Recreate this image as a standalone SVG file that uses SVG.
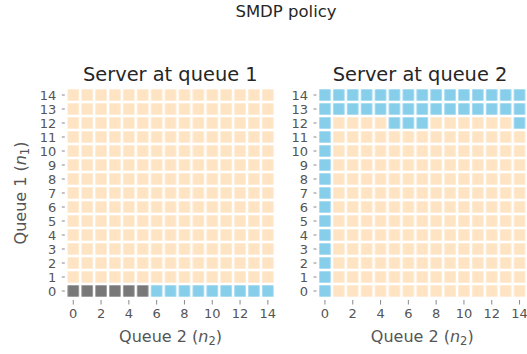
<svg xmlns="http://www.w3.org/2000/svg" width="527" height="354" viewBox="0 0 527 354">
<style>
text{font-family:"DejaVu Sans","Liberation Sans",sans-serif}
.sup{font-size:16.5px;fill:#262626;text-anchor:middle}
.ttl{font-size:19.4px;fill:#262626;text-anchor:middle}
.yt{font-size:13px;fill:#555;text-anchor:end}
.xt{font-size:13px;fill:#555;text-anchor:middle}
.al{font-size:16px;fill:#555;text-anchor:middle}
.tk{stroke:#888;stroke-width:1;fill:none}
</style>
<defs>
<pattern id="po" patternUnits="userSpaceOnUse" x="0" y="0" width="13.9" height="14"><rect x="1.3" y="1.3" width="11.3" height="11.4" fill="#FFE4C4"/></pattern>
<pattern id="pb" patternUnits="userSpaceOnUse" x="0" y="0" width="13.9" height="14"><rect x="1.3" y="1.3" width="11.3" height="11.4" fill="#87CEEB"/></pattern>
<pattern id="pg" patternUnits="userSpaceOnUse" x="0" y="0" width="13.9" height="14"><rect x="1.3" y="1.3" width="11.3" height="11.4" fill="#787878"/></pattern>
</defs>
<rect width="527" height="354" fill="#fff"/>
<text class="sup" x="286" y="17.3">SMDP policy</text>

<g id="panel-queue1" transform="translate(66.3,88)">
<text class="ttl" x="104" y="-7.5">Server at queue 1</text>
<rect x="0" y="0" width="208.5" height="196" fill="url(#po)"/>
<rect x="0" y="196" width="83.4" height="14" fill="url(#pg)"/>
<rect x="83.4" y="196" width="125.1" height="14" fill="url(#pb)"/>
<path class="tk" d="M-4.5 7h3M-4.5 21h3M-4.5 35h3M-4.5 49h3M-4.5 63h3M-4.5 77h3M-4.5 91h3M-4.5 105h3M-4.5 119h3M-4.5 133h3M-4.5 147h3M-4.5 161h3M-4.5 175h3M-4.5 189h3M-4.5 203h3"/>
<path class="tk" d="M6.95 212v4.5M34.75 212v4.5M62.55 212v4.5M90.35 212v4.5M118.15 212v4.5M145.95 212v4.5M173.75 212v4.5M201.55 212v4.5"/>
<text class="yt" x="-10" y="11.7">14</text>
<text class="yt" x="-10" y="25.7">13</text>
<text class="yt" x="-10" y="39.7">12</text>
<text class="yt" x="-10" y="53.7">11</text>
<text class="yt" x="-10" y="67.7">10</text>
<text class="yt" x="-10" y="81.7">9</text>
<text class="yt" x="-10" y="95.7">8</text>
<text class="yt" x="-10" y="109.7">7</text>
<text class="yt" x="-10" y="123.7">6</text>
<text class="yt" x="-10" y="137.7">5</text>
<text class="yt" x="-10" y="151.7">4</text>
<text class="yt" x="-10" y="165.7">3</text>
<text class="yt" x="-10" y="179.7">2</text>
<text class="yt" x="-10" y="193.7">1</text>
<text class="yt" x="-10" y="207.7">0</text>
<text class="xt" x="6.95" y="230.3">0</text>
<text class="xt" x="34.75" y="230.3">2</text>
<text class="xt" x="62.55" y="230.3">4</text>
<text class="xt" x="90.35" y="230.3">6</text>
<text class="xt" x="118.15" y="230.3">8</text>
<text class="xt" x="145.95" y="230.3">10</text>
<text class="xt" x="173.75" y="230.3">12</text>
<text class="xt" x="201.55" y="230.3">14</text>
<text class="al" x="104.25" y="253.5">Queue 2 (<tspan font-style="italic">n</tspan><tspan font-size="11.5px" dy="3">2</tspan><tspan dy="-3">)</tspan></text>
</g>
<text class="al" transform="translate(25.5,193) rotate(-90)">Queue 1 (<tspan font-style="italic">n</tspan><tspan font-size="11.5px" dy="3">1</tspan><tspan dy="-3">)</tspan></text>

<g id="panel-queue2" transform="translate(318,88)">
<text class="ttl" x="102" y="-7.5">Server at queue 2</text>
<rect x="0" y="0" width="208.5" height="28" fill="url(#pb)"/>
<rect x="0" y="28" width="13.9" height="182" fill="url(#pb)"/>
<rect x="13.9" y="28" width="55.6" height="14" fill="url(#po)"/>
<rect x="69.5" y="28" width="41.7" height="14" fill="url(#pb)"/>
<rect x="111.2" y="28" width="83.4" height="14" fill="url(#po)"/>
<rect x="194.6" y="28" width="13.9" height="14" fill="url(#pb)"/>
<rect x="13.9" y="42" width="194.6" height="168" fill="url(#po)"/>
<path class="tk" d="M-4.5 7h3M-4.5 21h3M-4.5 35h3M-4.5 49h3M-4.5 63h3M-4.5 77h3M-4.5 91h3M-4.5 105h3M-4.5 119h3M-4.5 133h3M-4.5 147h3M-4.5 161h3M-4.5 175h3M-4.5 189h3M-4.5 203h3"/>
<path class="tk" d="M6.95 212v4.5M34.75 212v4.5M62.55 212v4.5M90.35 212v4.5M118.15 212v4.5M145.95 212v4.5M173.75 212v4.5M201.55 212v4.5"/>
<text class="yt" x="-10" y="11.7">14</text>
<text class="yt" x="-10" y="25.7">13</text>
<text class="yt" x="-10" y="39.7">12</text>
<text class="yt" x="-10" y="53.7">11</text>
<text class="yt" x="-10" y="67.7">10</text>
<text class="yt" x="-10" y="81.7">9</text>
<text class="yt" x="-10" y="95.7">8</text>
<text class="yt" x="-10" y="109.7">7</text>
<text class="yt" x="-10" y="123.7">6</text>
<text class="yt" x="-10" y="137.7">5</text>
<text class="yt" x="-10" y="151.7">4</text>
<text class="yt" x="-10" y="165.7">3</text>
<text class="yt" x="-10" y="179.7">2</text>
<text class="yt" x="-10" y="193.7">1</text>
<text class="yt" x="-10" y="207.7">0</text>
<text class="xt" x="6.95" y="230.3">0</text>
<text class="xt" x="34.75" y="230.3">2</text>
<text class="xt" x="62.55" y="230.3">4</text>
<text class="xt" x="90.35" y="230.3">6</text>
<text class="xt" x="118.15" y="230.3">8</text>
<text class="xt" x="145.95" y="230.3">10</text>
<text class="xt" x="173.75" y="230.3">12</text>
<text class="xt" x="201.55" y="230.3">14</text>
<text class="al" x="104.25" y="253.5">Queue 2 (<tspan font-style="italic">n</tspan><tspan font-size="11.5px" dy="3">2</tspan><tspan dy="-3">)</tspan></text>
</g>
</svg>
